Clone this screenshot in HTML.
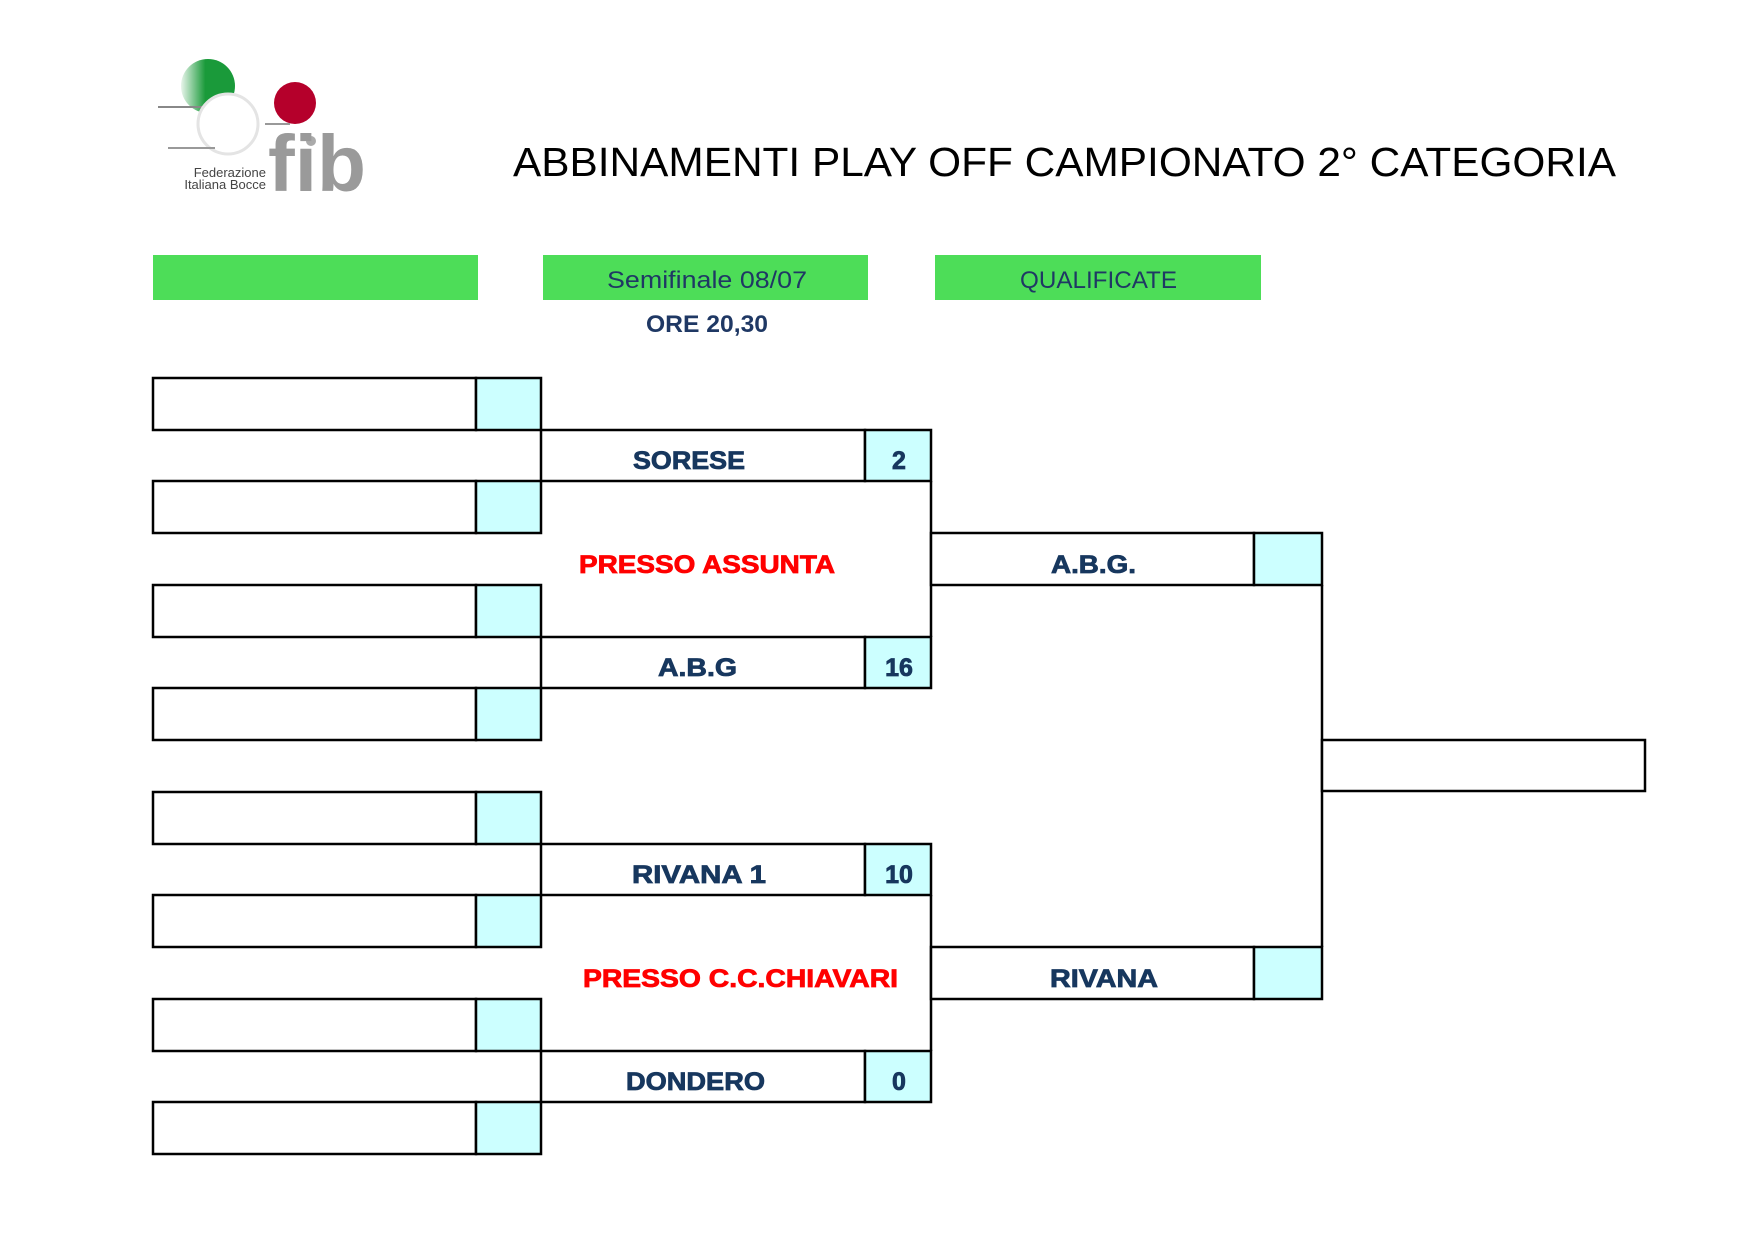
<!DOCTYPE html>
<html><head><meta charset="utf-8"><style>
html,body{margin:0;padding:0;background:#fff;}
body{width:1754px;height:1240px;overflow:hidden;}
</style></head><body>
<svg width="1754" height="1240" viewBox="0 0 1754 1240" xmlns="http://www.w3.org/2000/svg">
<defs>
<linearGradient id="gg" x1="0" x2="1" y1="0" y2="0">
<stop offset="0" stop-color="#1a9a3a" stop-opacity="0.1"/><stop offset="0.45" stop-color="#1a9a3a"/><stop offset="1" stop-color="#1a9a3a"/></linearGradient>
</defs>
<!-- logo -->
<circle cx="208" cy="86" r="27" fill="url(#gg)"/>
<line x1="158" y1="107" x2="205" y2="107" stroke="#888" stroke-width="2"/>
<circle cx="228" cy="124" r="30" fill="#fff" stroke="#e4e4e4" stroke-width="3"/>
<line x1="168" y1="148" x2="215" y2="148" stroke="#999" stroke-width="2"/>
<circle cx="295" cy="103" r="21" fill="#b5002b"/>
<line x1="265" y1="124" x2="290" y2="124" stroke="#999" stroke-width="2"/>
<circle cx="311" cy="141" r="5" fill="#aaa"/>
<text x="268" y="191" font-family="Liberation Sans, sans-serif" font-weight="bold" font-size="80" fill="#9a9a9a" textLength="98" lengthAdjust="spacingAndGlyphs">fib</text>
<text x="266" y="177" text-anchor="end" font-family="Liberation Sans, sans-serif" font-size="13" fill="#444">Federazione</text>
<text x="266" y="189" text-anchor="end" font-family="Liberation Sans, sans-serif" font-size="13" fill="#444">Italiana Bocce</text>
<!-- title -->
<text x="513" y="176" font-family="Liberation Sans, sans-serif" font-size="41" fill="#000" textLength="1103" lengthAdjust="spacingAndGlyphs">ABBINAMENTI PLAY OFF CAMPIONATO 2° CATEGORIA</text>
<!-- green bars -->
<rect x="153" y="255" width="325" height="45" fill="#4ddd58"/>
<rect x="543" y="255" width="325" height="45" fill="#4ddd58"/>
<rect x="935" y="255" width="326" height="45" fill="#4ddd58"/>
<text x="607" y="288" font-family="Liberation Sans, sans-serif" font-size="24" fill="#1f3864" textLength="200" lengthAdjust="spacingAndGlyphs">Semifinale 08/07</text>
<text x="1020" y="288" font-family="Liberation Sans, sans-serif" font-size="24" fill="#1f3864" textLength="157" lengthAdjust="spacingAndGlyphs">QUALIFICATE</text>
<text x="646" y="332" font-family="Liberation Sans, sans-serif" font-weight="bold" font-size="24" fill="#1f3864" textLength="122" lengthAdjust="spacingAndGlyphs">ORE 20,30</text>
<g stroke="#000" stroke-width="2.5">
<g fill="#fff">
<rect x="153" y="378" width="323" height="52"/><rect x="153" y="481" width="323" height="52"/>
<rect x="153" y="585" width="323" height="52"/><rect x="153" y="688" width="323" height="52"/>
<rect x="153" y="792" width="323" height="52"/><rect x="153" y="895" width="323" height="52"/>
<rect x="153" y="999" width="323" height="52"/><rect x="153" y="1102" width="323" height="52"/>
</g>
<g fill="#ccffff">
<rect x="476" y="378" width="65" height="52"/><rect x="476" y="481" width="65" height="52"/>
<rect x="476" y="585" width="65" height="52"/><rect x="476" y="688" width="65" height="52"/>
<rect x="476" y="792" width="65" height="52"/><rect x="476" y="895" width="65" height="52"/>
<rect x="476" y="999" width="65" height="52"/><rect x="476" y="1102" width="65" height="52"/>
</g>
<g fill="#fff">
<rect x="541" y="430" width="324" height="51"/><rect x="541" y="637" width="324" height="51"/>
<rect x="541" y="844" width="324" height="51"/><rect x="541" y="1051" width="324" height="51"/>
</g>
<g fill="#ccffff">
<rect x="865" y="430" width="66" height="51"/><rect x="865" y="637" width="66" height="51"/>
<rect x="865" y="844" width="66" height="51"/><rect x="865" y="1051" width="66" height="51"/>
</g>
<line x1="931" y1="481" x2="931" y2="637"/>
<line x1="931" y1="895" x2="931" y2="1051"/>
<line x1="1322" y1="585" x2="1322" y2="947"/>
<rect x="931" y="533" width="323" height="52" fill="#fff"/>
<rect x="1254" y="533" width="68" height="52" fill="#ccffff"/>
<rect x="931" y="947" width="323" height="52" fill="#fff"/>
<rect x="1254" y="947" width="68" height="52" fill="#ccffff"/>
<rect x="1322" y="740" width="323" height="51" fill="#fff"/>
</g>
<g font-family="Liberation Sans, sans-serif" font-weight="bold" font-size="25" fill="#17375e" stroke="#17375e" stroke-width="0.8" lengthAdjust="spacingAndGlyphs">
<text x="633" y="469" textLength="112" lengthAdjust="spacingAndGlyphs">SORESE</text>
<text x="658" y="676" textLength="79" lengthAdjust="spacingAndGlyphs">A.B.G</text>
<text x="632" y="883" textLength="134" lengthAdjust="spacingAndGlyphs">RIVANA 1</text>
<text x="626" y="1090" textLength="139" lengthAdjust="spacingAndGlyphs">DONDERO</text>
<text x="1051" y="573" textLength="85" lengthAdjust="spacingAndGlyphs">A.B.G.</text>
<text x="1050" y="987" textLength="108" lengthAdjust="spacingAndGlyphs">RIVANA</text>
</g>
<g font-family="Liberation Sans, sans-serif" font-weight="bold" font-size="25" fill="#17375e" stroke="#17375e" stroke-width="0.8" text-anchor="middle">
<text x="899" y="469">2</text>
<text x="899" y="676">16</text>
<text x="899" y="883">10</text>
<text x="899" y="1090">0</text>
</g>
<g font-family="Liberation Sans, sans-serif" font-weight="bold" font-size="25" fill="#ff0000" stroke="#ff0000" stroke-width="0.8">
<text x="579" y="573" textLength="256" lengthAdjust="spacingAndGlyphs">PRESSO ASSUNTA</text>
<text x="583" y="987" textLength="315" lengthAdjust="spacingAndGlyphs">PRESSO C.C.CHIAVARI</text>
</g>
</svg>
</body></html>
